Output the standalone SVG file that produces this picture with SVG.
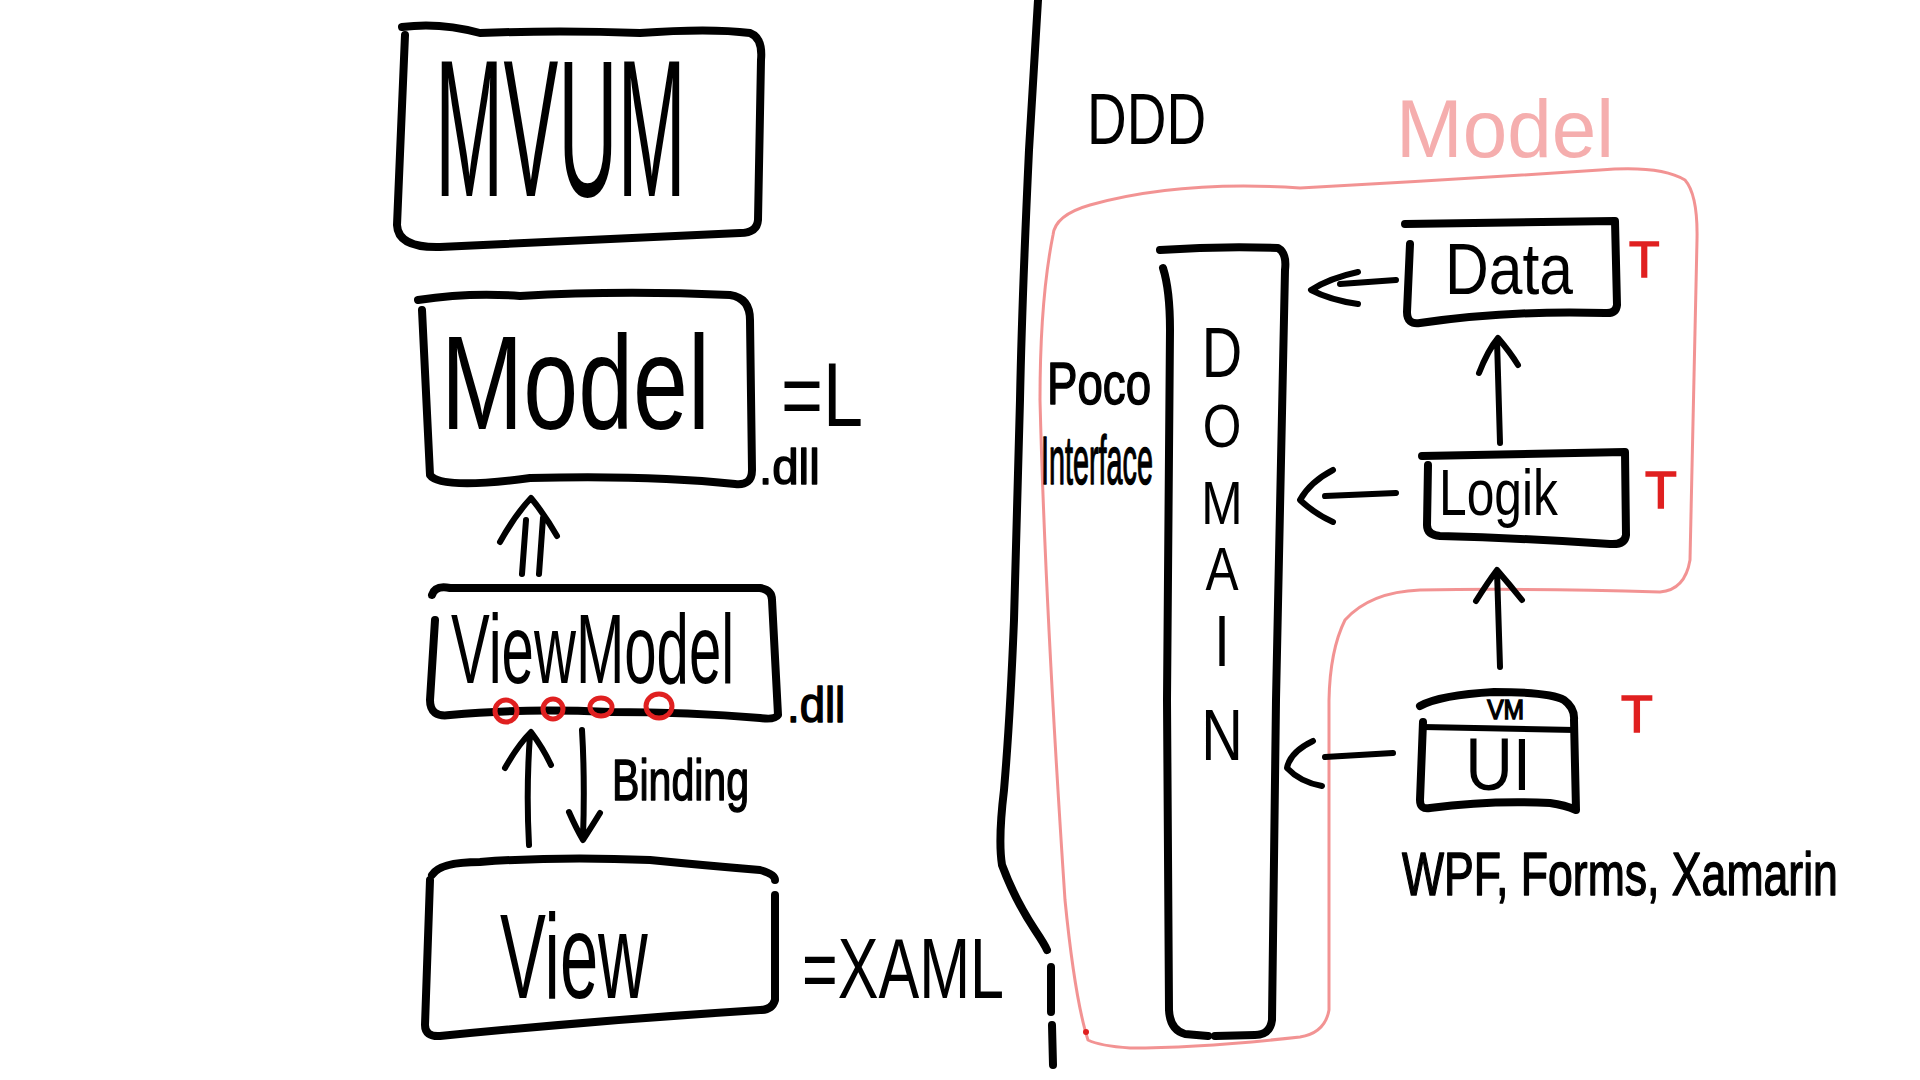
<svg xmlns="http://www.w3.org/2000/svg" width="1920" height="1080" viewBox="0 0 1920 1080">
<style>
.box{fill:none;stroke:#000;stroke-width:8;stroke-linecap:round;stroke-linejoin:round}
.ln{fill:none;stroke:#000;stroke-width:6;stroke-linecap:round;stroke-linejoin:round}
.t{font-family:"Liberation Sans","DejaVu Sans",sans-serif;fill:#000}
.ts{font-family:"Liberation Sans","DejaVu Sans",sans-serif;fill:#000;stroke:#000;stroke-width:1.5;stroke-linejoin:round}
.pink{fill:none;stroke:#f08080;stroke-width:3;stroke-linecap:round;stroke-linejoin:round;opacity:.85}
.pt{font-family:"Liberation Sans","DejaVu Sans",sans-serif;fill:#f4a0a0;opacity:.85}
.rt{font-family:"Liberation Sans","DejaVu Sans",sans-serif;fill:#e02020;stroke:#e02020;stroke-width:1.5}
.rc{fill:none;stroke:#e02020;stroke-width:5}
</style>
<rect width="1920" height="1080" fill="#fff"/>

<g id="divider">
<path class="box" d="M1038 0 Q1032 100 1029 150 Q1022 300 1020 400 L1014 620 Q1010 720 1004 790 Q998 840 1002 865 Q1015 900 1035 930 Q1045 945 1047 950"/>
<path class="box" d="M1051 967 L1051 1012 M1052 1025 L1053 1065"/>
</g>

<g id="mvvm">
<path class="box" d="M402 27 Q440 22 480 33 Q560 30 640 33 Q710 28 750 33 Q763 38 761 60 L758 220 Q757 233 740 233 Q600 240 440 247 Q398 248 397 225 L405 35"/>
<text class="t" transform="translate(435 196) scale(0.421 1)" font-size="195">MVUM</text>
</g>

<g id="model">
<path class="box" d="M418 300 Q470 292 520 296 Q620 290 730 295 Q750 298 750 320 L752 470 Q752 486 735 484 Q650 475 530 478 Q440 490 430 475 L422 310"/>
<text class="t" transform="translate(441 429) scale(0.737 1)" font-size="134">Model</text>
<text class="t" transform="translate(781 426) scale(0.79 1)" font-size="91">=L</text>
<text class="ts" transform="translate(759 484) scale(0.95 1)" font-size="50">.dll</text>
</g>

<g id="viewmodel">
<path class="box" d="M432 595 Q435 585 450 588 L760 588 Q772 590 772 600 L778 715 Q775 720 760 718 Q690 712 610 712 Q520 708 450 715 Q430 718 430 700 L435 620"/>
<text class="t" transform="translate(451 683) scale(0.587 1)" font-size="99">ViewModel</text>
<ellipse class="rc" cx="506" cy="711" rx="11" ry="11"/>
<ellipse class="rc" cx="553" cy="709" rx="10" ry="10"/>
<ellipse class="rc" cx="601" cy="707" rx="11" ry="9"/>
<ellipse class="rc" cx="659" cy="706" rx="13" ry="12"/>
<text class="ts" transform="translate(787 722) scale(0.91 1)" font-size="50">.dll</text>
</g>

<g id="view">
<path class="box" d="M432 875 Q440 862 480 862 Q560 856 650 860 Q700 865 760 870 Q775 874 775 880 M775 895 L775 1000 Q772 1010 760 1010 Q600 1020 440 1036 Q425 1037 425 1025 L430 880"/>
<text class="t" transform="translate(500 998) scale(0.573 1)" font-size="120">View</text>
<text class="t" transform="translate(802 998) scale(0.719 1)" font-size="85">=XAML</text>
</g>

<g id="binding-label">
<text class="ts" transform="translate(612 800) scale(0.721 1)" font-size="57">Binding</text>
</g>

<g id="ddd-title">
<text class="t" transform="translate(1087 144) scale(0.753 1)" font-size="73">DDD</text>
</g>

<g id="model-boundary">
<path class="pink" d="M1053 235 Q1055 215 1090 205 Q1180 180 1300 188 Q1450 180 1600 170 Q1660 165 1685 180 Q1698 195 1697 240 L1690 560 Q1685 590 1660 592 Q1530 588 1420 590 Q1370 592 1345 620 Q1330 650 1329 700 L1329 1010 Q1325 1033 1300 1037 Q1200 1048 1130 1048 Q1100 1046 1088 1040 Q1075 1000 1065 900 Q1045 600 1040 400 Q1040 300 1053 235 Z"/>
<text class="pt" transform="translate(1396 157) scale(0.976 1)" font-size="82">Model</text>
<circle cx="1086" cy="1032" r="3" fill="#e02020"/>
</g>

<g id="domain">
<path class="box" d="M1160 250 Q1220 246 1278 248 Q1287 253 1285 270 L1276 700 L1272 1020 Q1270 1035 1255 1035 L1215 1036 M1208 1036 L1185 1034 Q1170 1030 1169 1010 L1167 700 L1170 330 Q1170 290 1163 268"/>
<text class="t" transform="translate(1222 0) scale(0.8 1)" text-anchor="middle"><tspan x="0" y="377" font-size="70">D</tspan><tspan x="0" y="447" font-size="62">O</tspan><tspan x="0" y="524" font-size="62">M</tspan><tspan x="0" y="590" font-size="62">A</tspan><tspan x="0" y="666" font-size="72">I</tspan><tspan x="0" y="760" font-size="72">N</tspan></text>
</g>

<g id="poco-interface">
<text class="ts" transform="translate(1047 404) scale(0.761 1)" font-size="60">Poco</text>
<text class="ts" transform="translate(1041 484) scale(0.423 1)" font-size="68">Interface</text>
</g>

<g id="data">
<path class="box" d="M1405 224 L1615 221 L1617 305 Q1616 314 1605 313 Q1510 310 1420 323 Q1407 325 1407 312 L1410 244"/>
<text class="t" transform="translate(1445 294) scale(0.83 1)" font-size="73">Data</text>
<text class="rt" x="1629" y="277" font-size="50">T</text>
</g>

<g id="logik">
<path class="box" d="M1422 456 L1625 452 L1626 535 Q1625 545 1610 544 Q1520 538 1440 536 Q1427 535 1427 525 L1428 465"/>
<text class="t" transform="translate(1439 515) scale(0.778 1)" font-size="64">Logik</text>
<text class="rt" x="1645" y="508" font-size="52">T</text>
</g>

<g id="ui">
<path class="box" d="M1420 706 Q1440 695 1494 692 Q1550 692 1564 700 Q1575 708 1574 720 L1576 810 Q1565 805 1550 803 Q1490 800 1430 808 Q1420 810 1420 800 L1423 722"/>
<path class="ln" d="M1423 727 L1575 730"/>
<text class="t" transform="scale(0.88 1)"><tspan x="1690" y="719" font-size="28" stroke="#000" stroke-width="1.5">VM</tspan><tspan x="1665" y="790" font-size="75">UI</tspan></text>
<text class="rt" x="1621" y="732" font-size="52">T</text>
</g>

<g id="platforms">
<text class="ts" transform="translate(1402 895) scale(0.719 1)" font-size="62">WPF, Forms, Xamarin</text>
</g>

<g id="connectors">
<path class="ln" d="M522 574 L526 520 M539 574 L543 518 M500 542 Q515 515 531 498 Q545 515 557 536"/>
<path class="ln" d="M529 845 Q526 790 530 735 M505 768 Q518 745 531 732 Q543 748 551 765"/>
<path class="ln" d="M582 730 Q585 780 583 838 M569 812 Q576 828 583 840 Q592 826 600 813"/>
<path class="ln" d="M1396 280 L1340 284 M1358 272 Q1330 278 1311 290 Q1330 300 1358 304"/>
<path class="ln" d="M1500 443 L1497 340 M1479 373 Q1488 350 1498 338 Q1510 352 1518 365"/>
<path class="ln" d="M1396 493 L1325 496 M1333 470 Q1310 482 1300 500 Q1315 514 1333 522"/>
<path class="ln" d="M1500 667 L1497 571 M1476 601 Q1488 582 1497 570 Q1510 585 1522 600"/>
<path class="ln" d="M1393 753 L1325 757 M1313 741 Q1290 752 1287 768 Q1300 782 1322 786"/>
</g>
</svg>
